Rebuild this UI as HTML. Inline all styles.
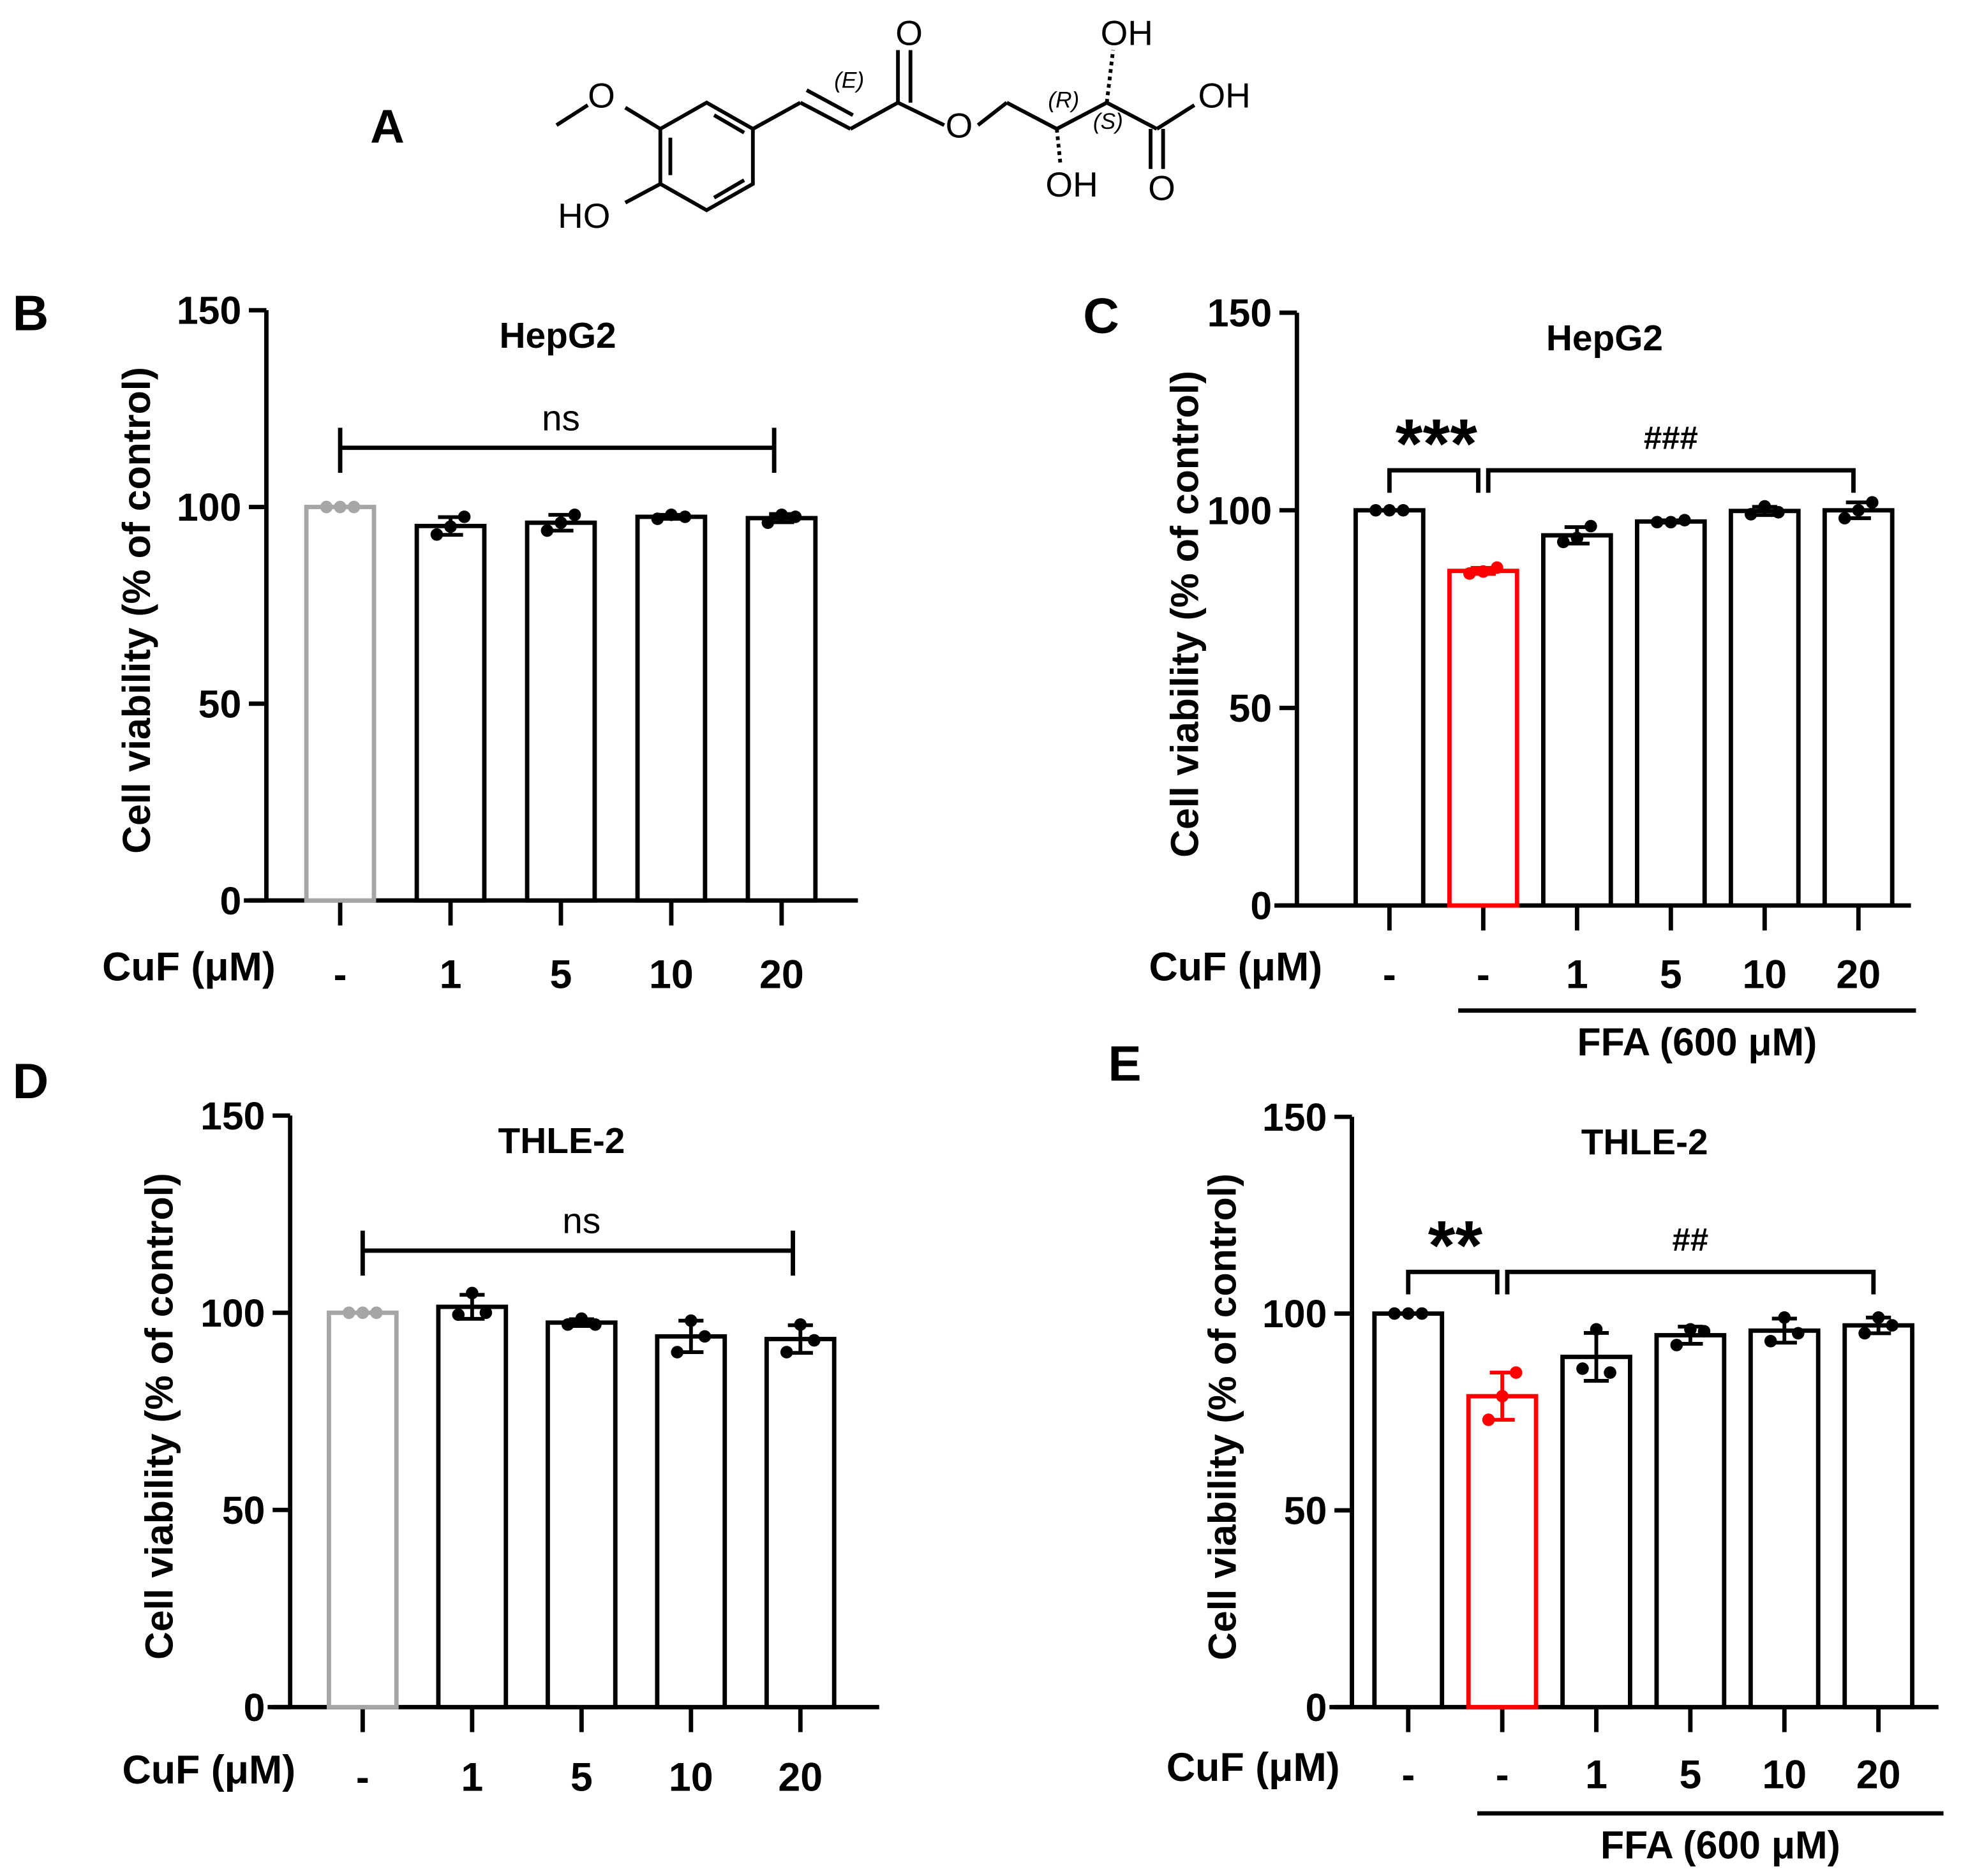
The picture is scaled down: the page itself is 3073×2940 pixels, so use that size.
<!DOCTYPE html>
<html><head><meta charset="utf-8"><style>
html,body{margin:0;padding:0;background:#fff;}
svg{display:block;}
text{font-family:"Liberation Sans",Arial,sans-serif;fill:#000;}
</style></head><body>
<svg id="fig" width="3073" height="2940" viewBox="0 0 1568 1500" font-weight="bold" xmlns="http://www.w3.org/2000/svg">
<g id="molecule" stroke="#000" stroke-width="3" fill="none">
  <text x="296" y="114" font-size="38" stroke="none" font-weight="bold">A</text>
  <polygon points="565,82 602,103 602,147 565,168 528,147 528,103"/>
  <line x1="536" y1="110" x2="536" y2="140"/><line x1="571" y1="158" x2="595" y2="144"/><line x1="571" y1="92" x2="595" y2="106"/>
  <line x1="528" y1="103" x2="500" y2="86"/><line x1="470" y1="84" x2="445" y2="100"/>
  <line x1="528" y1="147" x2="500" y2="162"/>
  <line x1="602" y1="103" x2="640" y2="82"/><line x1="640" y1="82" x2="680" y2="103"/><line x1="645" y1="72" x2="682" y2="92"/>
  <line x1="680" y1="103" x2="718" y2="82"/><line x1="718" y1="82" x2="718" y2="40"/><line x1="728" y1="82" x2="728" y2="40"/>
  <line x1="718" y1="82" x2="755" y2="100"/><line x1="782" y1="100" x2="805" y2="82"/><line x1="805" y1="82" x2="845" y2="103"/>
  <line x1="845" y1="103" x2="848" y2="132" stroke-dasharray="3,3"/><line x1="845" y1="103" x2="885" y2="82"/>
  <line x1="885" y1="82" x2="890" y2="40" stroke-dasharray="3,3"/><line x1="885" y1="82" x2="925" y2="103"/>
  <line x1="925" y1="103" x2="955" y2="84"/><line x1="920" y1="103" x2="920" y2="135"/><line x1="930" y1="103" x2="930" y2="135"/>
  <g stroke="none" font-size="28" font-weight="normal">
    <text x="470" y="86">O</text>
    <text x="446" y="182">HO</text>
    <text x="716" y="36">O</text>
    <text x="756" y="110">O</text>
    <text x="836" y="157">OH</text>
    <text x="880" y="36">OH</text>
    <text x="958" y="86">OH</text>
    <text x="918" y="160">O</text>
    <text x="667" y="70" font-size="18" font-style="italic">(E)</text>
    <text x="838" y="86" font-size="18" font-style="italic">(R)</text>
    <text x="874" y="103" font-size="18" font-style="italic">(S)</text>
  </g>
</g>
</svg>
<script>
// Panel B: HepG2, CuF only
const catsB = ["-","1","5","10","20"];
const ptsB = [[100,100,100],[93,95,97.5],[94,96,98],[97,98,97.5],[96,98,97.5]];
// Panel C: HepG2 + FFA
const catsC = ["-","-","1","5","10","20"];
const ptsC = [[100,100,100],[84,84.5,85.5],[92,93,96],[97,97,97.5],[99,101,99.5],[98,100,102]];
// Panel D: THLE-2, CuF only
const catsD = ["-","1","5","10","20"];
const ptsD = [[100,100,100],[99.5,105,100],[97,98.5,97],[90,98,94],[90,97,93]];
// Panel E: THLE-2 + FFA
const catsE = ["-","-","1","5","10","20"];
const ptsE = [[100,100,100],[73,79,85],[86,96,85],[92,96,95.5],[93,99,95],[95,99,97]];
const yTicks = [0,50,100,150];

const NS="http://www.w3.org/2000/svg";
const svg=document.getElementById('fig');
const SW=3.5;
function mk(tag,attrs,parent){const e=document.createElementNS(NS,tag);for(const k in attrs)e.setAttribute(k,attrs[k]);(parent||svg).appendChild(e);return e;}
function txt(s,x,y,size,anchor,parent){const t=mk('text',{x:x,y:y,'font-size':size,'text-anchor':anchor||'middle'},parent);t.textContent=s;return t;}

function panel(p){
  const g=mk('g',{});
  
  
  const y=v=>p.y0-v*(p.y0-p.y150)/150;
  const step=(p.xLast-p.xFirst)/(p.cats.length-1);
  const x=i=>p.xFirst+i*step;
  const L=mk('text',{x:p.letterX,y:p.letterY,'font-size':40},g);L.textContent=p.id.toUpperCase();
  
  
  const ya=mk('line',{x1:p.ax,y1:p.y150,x2:p.ax,y2:p.y0,stroke:'#000','stroke-width':SW},g);
  
  
  yTicks.forEach(v=>{
    mk('line',{x1:p.ax-14,y1:y(v),x2:p.ax,y2:y(v),stroke:'#000','stroke-width':SW},g);
    const t=txt(String(v),p.ax-20,y(v)+11,31,'end',g);
    
    
  });
  const xa=mk('line',{x1:p.ax-18,y1:p.y0,x2:p.xEnd,y2:p.y0,stroke:'#000','stroke-width':SW},g);
  
  
  const yt=txt('Cell viability (% of control)',0,0,31,'middle',g);
  yt.setAttribute('transform','translate('+p.ylabX+','+((p.y0+p.y150)/2+4)+') rotate(-90)');
  
  
  const tt=txt(p.title,p.titleX,p.y150+30,29,'middle',g);
  
  
  const cl=txt('CuF (μM)',p.cufX,p.labY,32,'middle',g);
  
  
  p.cats.forEach((c,i)=>{
    const pts=p.pts[i];
    const m=pts.reduce((a,b)=>a+b,0)/pts.length;
    const sd=Math.sqrt(pts.reduce((a,b)=>a+(b-m)*(b-m),0)/(pts.length-1));
    const col=(p.colors[i]||'#000');
    mk('line',{x1:x(i),y1:p.y0,x2:x(i),y2:p.y0+20,stroke:'#000','stroke-width':SW},g);
    const lab=txt(c,x(i),p.labY+6,32,'middle',g);
    
    
    const bar=mk('rect',{x:x(i)-27,y:y(m),width:54,height:p.y0-y(m),fill:'#fff',stroke:col,'stroke-width':SW},g);
    
    
    mk('line',{x1:x(i),y1:y(m-sd),x2:x(i),y2:y(m+sd),stroke:col,'stroke-width':3},g);
    mk('line',{x1:x(i)-10,y1:y(m-sd),x2:x(i)+10,y2:y(m-sd),stroke:col,'stroke-width':3},g);
    mk('line',{x1:x(i)-10,y1:y(m+sd),x2:x(i)+10,y2:y(m+sd),stroke:col,'stroke-width':3},g);
    pts.forEach((v,k)=>{
      const dot=mk('circle',{cx:x(i)+(k-1)*11,cy:y(v),r:5,fill:col},g);
      
      
    });
  });
  if(p.ffa){
    mk('line',{x1:x(1)-20,y1:p.ffaY,x2:p.xEnd+4,y2:p.ffaY,stroke:'#000','stroke-width':SW},g);
    const f=txt('FFA (600 μM)',(x(1)+p.xEnd)/2,p.ffaY+36,31,'middle',g);
    
    
    const b=p.brY;
    mk('polyline',{points:`${x(0)},${b+18} ${x(0)},${b} ${x(1)-4},${b} ${x(1)-4},${b+18}`,fill:'none',stroke:'#000','stroke-width':SW},g);
    mk('polyline',{points:`${x(1)+4},${b+18} ${x(1)+4},${b} ${x(5)-4},${b} ${x(5)-4},${b+18}`,fill:'none',stroke:'#000','stroke-width':SW},g);
    const s=txt(p.star,(x(0)+x(1))/2,b-2,56,'middle',g);
    const h=txt(p.hash,(x(1)+x(5))/2,b-17,26,'middle',g);
  } else {
    const b=p.brY;
    mk('line',{x1:x(0),y1:b,x2:x(4)-6,y2:b,stroke:'#000','stroke-width':SW},g);
    mk('line',{x1:x(0),y1:b-16,x2:x(0),y2:b+20,stroke:'#000','stroke-width':SW},g);
    mk('line',{x1:x(4)-6,y1:b-16,x2:x(4)-6,y2:b+20,stroke:'#000','stroke-width':SW},g);
    const n=txt('ns',(x(0)+x(4))/2,b-14,29,'middle',g);
    n.setAttribute('font-weight','normal');
  }
}
panel({id:'b',cats:catsB,pts:ptsB,colors:['#a6a6a6'],y0:720,y150:248,ax:213,xEnd:686,xFirst:272,xLast:625,labY:784,cufX:151,ylabX:120,title:'HepG2',titleX:446,brY:358,letterX:10,letterY:264});
panel({id:'c',cats:catsC,pts:ptsC,colors:['#000','#ff0000'],y0:724,y150:250,ax:1037,xEnd:1528,xFirst:1111,xLast:1486,labY:784,cufX:988,ylabX:958,title:'HepG2',titleX:1283,ffa:true,ffaY:808,brY:376,star:'***',hash:'###',letterX:866,letterY:266});
panel({id:'d',cats:catsD,pts:ptsD,colors:['#a6a6a6'],y0:1365,y150:892,ax:232,xEnd:703,xFirst:290,xLast:640,labY:1426,cufX:167,ylabX:138,title:'THLE-2',titleX:449,brY:1000,letterX:10,letterY:878});
panel({id:'e',cats:catsE,pts:ptsE,colors:['#000','#ff0000'],y0:1365,y150:893,ax:1081,xEnd:1550,xFirst:1126,xLast:1502,labY:1424,cufX:1002,ylabX:988,title:'THLE-2',titleX:1315,ffa:true,ffaY:1450,brY:1017,star:'**',hash:'##',letterX:886,letterY:864});
</script>
</body></html>
